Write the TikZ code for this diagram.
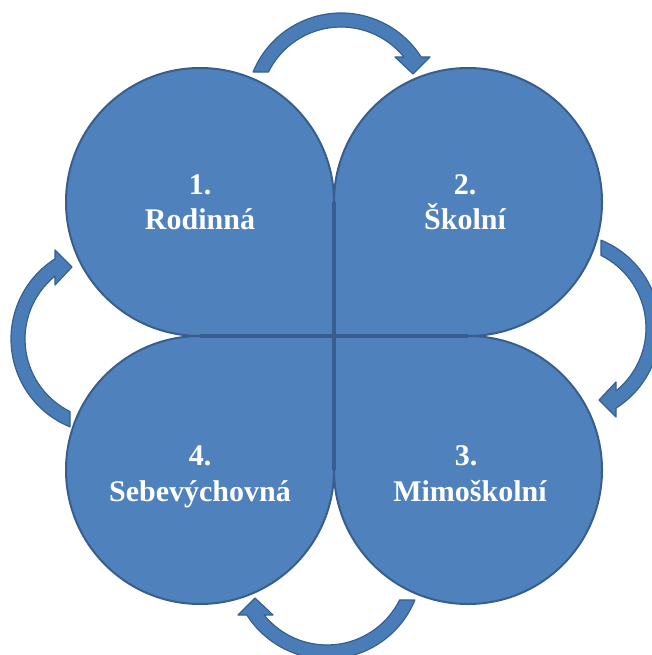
\documentclass[tikz,border=0pt]{standalone}
\usepackage{fontspec}
\setmainfont{Liberation Serif}
\begin{document}
\begin{tikzpicture}[x=0.75pt,y=0.75pt,
  petal/.style={fill=petalblue,draw=edgeblue,line width=1.5pt,line join=round},
  arrowbody/.style={fill=arrowblue,draw=arrowedge,line width=0.9pt,line join=round},
  label/.style={text=white,font=\bfseries\fontsize{22.5}{27}\selectfont,anchor=base,inner sep=0pt}]
\definecolor{petalblue}{HTML}{4F81BD}
\definecolor{edgeblue}{HTML}{385E8D}
\definecolor{arrowblue}{HTML}{4A7CB8}
\definecolor{arrowedge}{HTML}{36608F}
\useasboundingbox (0,0) rectangle (651,-655);
\coordinate (O) at (334,-336);

% four petals, each with its square corner at the centre
\path[petal] (O) -- (334,-202) arc[start angle=0,end angle=270,radius=134] -- cycle;
\path[petal] (O) -- (468,-336) arc[start angle=270,end angle=540,radius=134] -- cycle;
\path[petal] (O) -- (334,-470) arc[start angle=180,end angle=450,radius=134] -- cycle;
\path[petal] (O) -- (200,-336) arc[start angle=90,end angle=360,radius=134] -- cycle;
% darker seams where the petals meet
\draw[edgeblue,line width=2.4pt] (334,-202) -- (334,-470) (200,-336) -- (468,-336);

% curved arrow above the top petals; the others are turned copies
\newcommand\cyclearrowpath{%
  \path[arrowbody] (341,-108) ++(157.73:95)
    arc[start angle=157.73,end angle=32.49,radius=95]
    -- (430,-57) -- (413,-74) -- (395,-57) -- (403.9,-57)
    arc[start angle=39.03,end angle=153.63,radius=81] -- cycle;}
\cyclearrowpath
\begin{scope}[shift={(-15,3)},rotate around={-90:(O)}]\cyclearrowpath\end{scope}
\begin{scope}[rotate around={180:(O)}]\cyclearrowpath\end{scope}
\begin{scope}[shift={(-10,0)},rotate around={90:(O)}]\cyclearrowpath\end{scope}

% labels
\node[label] (n1) at (200,-195) {1.};
\node[label] (t1) at (200,-230) {Rodinná};
\node[label] (n2) at (465,-195) {2.};
\node[label] (t2) at (465,-230) {Školní};
\node[label] (n3) at (466,-465) {3.};
\node[label] (t3) at (470,-501) {Mimoškolní};
\node[label] (n4) at (200,-465) {4.};
\node[label] (t4) at (200,-501) {Sebevýchovná};
\end{tikzpicture}
\end{document}
